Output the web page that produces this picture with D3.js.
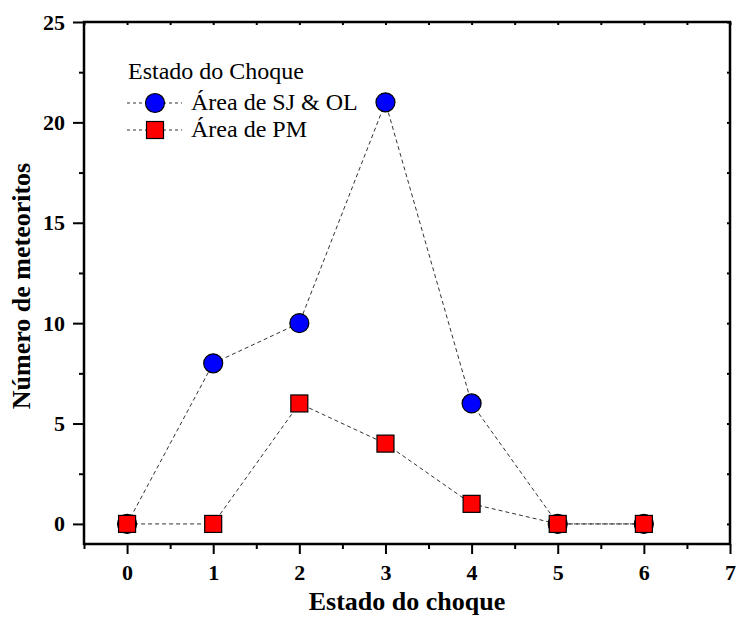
<!DOCTYPE html>
<html>
<head>
<meta charset="utf-8">
<script src="https://cdn.jsdelivr.net/npm/d3@7"></script>
<style>
  body { margin: 0; background: #fff; }
  svg { display: block; }
  text { font-family: "Liberation Serif", "Times New Roman", serif; }
</style>
</head>
<body>
<svg id="chart" width="736" height="619"></svg>
<script>
// Shock stage on the x axis, number of meteorites per area
const stages = [0, 1, 2, 3, 4, 5, 6];
const sjOl = [0, 8, 10, 21, 6, 0, 0];
const pm = [0, 0, 6, 4, 1, 0, 0];
const xTicks = [0, 1, 2, 3, 4, 5, 6, 7];
const yTicks = [0, 5, 10, 15, 20, 25];
const seriesNames = ["Área de SJ & OL", "Área de PM"];
const legendTitle = "Estado do Choque";

const svg = d3.select("#chart");
const margin = { left: 84, top: 22, right: 6, bottom: 75 };
const W = 736, H = 619;

const x = d3.scaleLinear().domain([-0.5, 7]).range([margin.left, W - margin.right]);
const y = d3.scaleLinear().domain([-1, 25]).range([H - margin.bottom, margin.top]);

const x0 = x.range()[0], x1 = x.range()[1];
const y0 = y.range()[0], y1 = y.range()[1];

// Bottom axis: labelled integer ticks plus half-step minor ticks
const xMinor = d3.range(-0.5, 7.01, 0.5).filter(v => !Number.isInteger(v));
const axBottom = svg.append("g").attr("transform", `translate(0,${y0})`);
axBottom.call(d3.axisBottom(x).tickValues(xTicks).tickSize(10).tickPadding(10).tickFormat(d3.format("d")));
axBottom.append("g").call(d3.axisBottom(x).tickValues(xMinor).tickSize(5).tickFormat(""));

// Left axis
const yMinor = [2.5, 7.5, 12.5, 17.5, 22.5];
const axLeft = svg.append("g").attr("transform", `translate(${x0},0)`);
axLeft.call(d3.axisLeft(y).tickValues(yTicks).tickSize(11).tickPadding(8).tickFormat(d3.format("d")));
axLeft.append("g").call(d3.axisLeft(y).tickValues(yMinor).tickSize(5).tickFormat(""));

// Top and right axes: small inward ticks, no labels
const axTop = svg.append("g").attr("transform", `translate(0,${y1})`);
axTop.call(d3.axisBottom(x).tickValues(d3.range(-0.5, 7.01, 0.5)).tickSize(3).tickFormat(""));
const axRight = svg.append("g").attr("transform", `translate(${x1},0)`);
axRight.call(d3.axisLeft(y).tickValues(d3.range(0, 25.01, 2.5)).tickSize(3).tickFormat(""));

svg.selectAll(".domain").remove();
svg.selectAll(".tick line").attr("stroke", "#000").attr("stroke-width", 2);
svg.selectAll(".tick text")
  .attr("font-size", 22).attr("font-weight", "bold").attr("fill", "#000")
  .attr("font-family", "'Liberation Serif', serif");

// Frame
svg.append("rect")
  .attr("x", x0).attr("y", y1).attr("width", x1 - x0).attr("height", y0 - y1)
  .attr("fill", "none").attr("stroke", "#000").attr("stroke-width", 2.5);

// Dashed connecting lines
const line = d3.line().x((d, i) => x(stages[i])).y(d => y(d));
[sjOl, pm].forEach(vals => {
  svg.append("path").datum(vals).attr("d", line)
    .attr("fill", "none").attr("stroke", "#333").attr("stroke-width", 1)
    .attr("stroke-dasharray", "4,3");
});

// Markers
svg.append("g").selectAll("circle").data(sjOl).join("circle")
  .attr("cx", (d, i) => x(stages[i])).attr("cy", d => y(d)).attr("r", 9.5)
  .attr("fill", "#0000ff").attr("stroke", "#000").attr("stroke-width", 1.2);
const sq = 17;
svg.append("g").selectAll("rect").data(pm).join("rect")
  .attr("x", (d, i) => x(stages[i]) - sq / 2).attr("y", d => y(d) - sq / 2)
  .attr("width", sq).attr("height", sq)
  .attr("fill", "#ff0000").attr("stroke", "#000").attr("stroke-width", 1.2);

// Legend
const lg = svg.append("g");
lg.append("text").attr("x", 128).attr("y", 79).attr("font-size", 24).text(legendTitle);
const rows = [
  { name: seriesNames[0], yPos: 103, shape: "circle" },
  { name: seriesNames[1], yPos: 130, shape: "square" }
];
rows.forEach(r => {
  lg.append("line").attr("x1", 127).attr("x2", 182).attr("y1", r.yPos).attr("y2", r.yPos)
    .attr("stroke", "#333").attr("stroke-width", 1).attr("stroke-dasharray", "3,3");
  if (r.shape === "circle") {
    lg.append("circle").attr("cx", 155).attr("cy", r.yPos).attr("r", 9.5)
      .attr("fill", "#0000ff").attr("stroke", "#000").attr("stroke-width", 1.2);
  } else {
    lg.append("rect").attr("x", 155 - sq / 2).attr("y", r.yPos - sq / 2).attr("width", sq).attr("height", sq)
      .attr("fill", "#ff0000").attr("stroke", "#000").attr("stroke-width", 1.2);
  }
  lg.append("text").attr("x", 191).attr("y", r.yPos + 7).attr("font-size", 24).text(r.name);
});

// Axis titles
svg.append("text").attr("x", 407).attr("y", 610).attr("text-anchor", "middle")
  .attr("font-size", 26).attr("font-weight", "bold").text("Estado do choque");
svg.append("text").attr("transform", `translate(30,286) rotate(-90)`)
  .attr("text-anchor", "middle").attr("font-size", 26).attr("font-weight", "bold")
  .text("Número de meteoritos");
</script>
</body>
</html>
